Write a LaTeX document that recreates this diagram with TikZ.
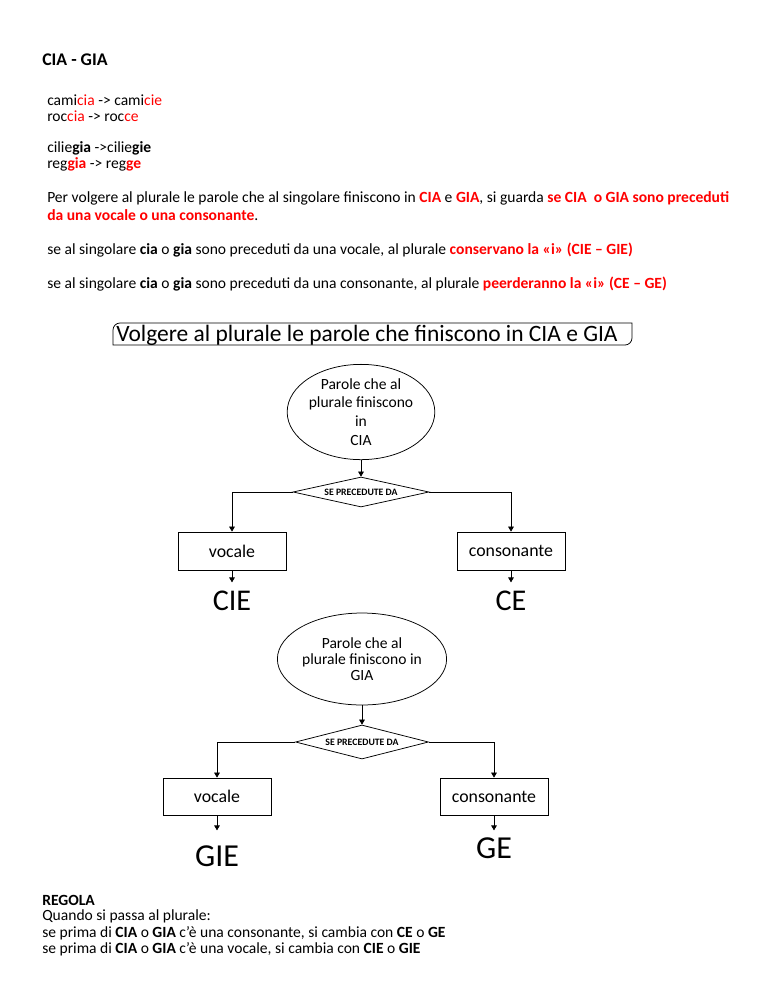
\documentclass[tikz,border=0pt]{standalone}
\usepackage{fontspec}
\setmainfont{Carlito}
\usetikzlibrary{shapes.geometric,arrows.meta}
\definecolor{rd}{RGB}{255,0,0}
\newcommand{\R}[1]{\textcolor{rd}{#1}}
\newcommand{\RB}[1]{\textcolor{rd}{\textbf{#1}}}
\begin{document}
\begin{tikzpicture}[x=0.797pt,y=-0.797pt,
  txt/.style={anchor=west,inner sep=0pt,font=\fontsize{12.4}{14}\selectfont},
  rtxt/.style={anchor=west,inner sep=0pt,font=\fontsize{12.4}{14}\selectfont},
  oval/.style={draw,ellipse,inner sep=0pt,line width=0.6pt,align=center},
  dia/.style={draw,diamond,aspect=7,inner sep=0pt,line width=0.6pt,font=\bfseries\fontsize{7.8}{9}\selectfont},
  sbox/.style={draw,rectangle,inner sep=0pt,line width=0.6pt,minimum width=86.1pt,font=\fontsize{14.2}{16}\selectfont},
  big/.style={inner sep=0pt,font=\fontsize{24}{26}\selectfont},
  bigg/.style={inner sep=0pt,font=\fontsize{25.5}{28}\selectfont},
  arr/.style={-{Triangle[length=4pt,width=4.5pt]},line width=0.6pt}]
\useasboundingbox (0,0) rectangle (768,994);
\fill[white] (0,0) rectangle (768,994);

\node[anchor=west,inner sep=0pt,font=\bfseries\fontsize{14.2}{16}\selectfont] (h) at (42,60) {CIA - GIA};
\node[txt] (l1) at (47,100) {cami\R{cia} -> cami\R{cie}};
\node[txt] (l2) at (47,116) {roc\R{cia} -> roc\R{ce}};
\node[txt] (l3) at (47,148) {cilie\textbf{gia} ->cilie\textbf{gie}};
\node[txt] (l4) at (47,164) {reg\RB{gia} -> reg\RB{ge}};
\node[txt] (l5) at (47,198) {Per volgere al plurale le parole che al singolare finiscono in \RB{CIA} e \RB{GIA}, si guarda \RB{se CIA\ \ o GIA sono preceduti}};
\node[txt] (l6) at (47,215) {\RB{da una vocale o una consonante}.};
\node[txt] (l7) at (47,250) {se al singolare \textbf{cia} o \textbf{gia} sono preceduti da una vocale, al plurale \RB{conservano la «i» (CIE – GIE)}};
\node[txt] (l8) at (47,284) {se al singolare \textbf{cia} o \textbf{gia} sono preceduti da una consonante, al plurale \RB{peerderanno la «i» (CE – GE)}};

% title box
\draw[line width=0.6pt] (113,345) -- (113,330) arc[start angle=180,end angle=90,radius=5.6pt] -- (632,323) -- (632,338) arc[start angle=0,end angle=-90,radius=5.6pt] -- cycle;
\node[anchor=west,inner sep=0pt,font=\fontsize{18.7}{20}\selectfont] (title) at (116,335) {Volgere al plurale le parole che finiscono in CIA e GIA};

% first chart
\node[oval,minimum width=110pt,minimum height=70.9pt,font=\fontsize{12.4}{15}\selectfont] (e1) at (361,412) {Parole che al\\plurale finiscono\\in\\CIA};
\node[dia,minimum width=108.4pt,minimum height=23.9pt] (d1) at (361,492) {SE PRECEDUTE DA};
\node[sbox,minimum height=30.3pt] (v1) at (232,551) {vocale};
\node[sbox,minimum height=30.3pt] (c1) at (511,551) {consonante};
\node[big] (r1) at (232,601) {CIE};
\node[big] (r2) at (511,601) {CE};
\draw[arr] (e1.south) -- (d1.north);
\draw[arr] (d1.west) -| (v1.north);
\draw[arr] (d1.east) -| (c1.north);
\draw[arr] (v1.south) -- ++(0,12);
\draw[arr] (c1.south) -- ++(0,12);

% second chart
\node[oval,minimum width=119.6pt,minimum height=73.3pt,font=\fontsize{12.4}{13}\selectfont] (e2) at (362,659) {Parole che al\\plurale finiscono in\\GIA};
\node[dia,minimum width=106pt,minimum height=27.1pt] (d2) at (362,742) {SE PRECEDUTE DA};
\node[sbox,minimum height=29.5pt] (v2) at (217,796.5) {vocale};
\node[sbox,minimum height=29.5pt] (c2) at (494,796.5) {consonante};
\node[bigg] (r3) at (217,856) {GIE};
\node[bigg] (r4) at (494,848) {GE};
\draw[arr] (e2.south) -- (d2.north);
\draw[arr] (d2.west) -| (v2.north);
\draw[arr] (d2.east) -| (c2.north);
\draw[arr] (v2.south) -- ++(0,15);
\draw[arr] (c2.south) -- ++(0,15);

% rule
\node[rtxt] (g1) at (42,900) {\textbf{REGOLA}};
\node[rtxt] (g2) at (42,916.5) {Quando si passa al plurale:};
\node[rtxt] (g3) at (42,933) {se prima di \textbf{CIA} o \textbf{GIA} c’è una consonante, si cambia con \textbf{CE} o \textbf{GE}};
\node[rtxt] (g4) at (42,949.5) {se prima di \textbf{CIA} o \textbf{GIA} c’è una vocale, si cambia con \textbf{CIE} o \textbf{GIE}};
\end{tikzpicture}
\end{document}
